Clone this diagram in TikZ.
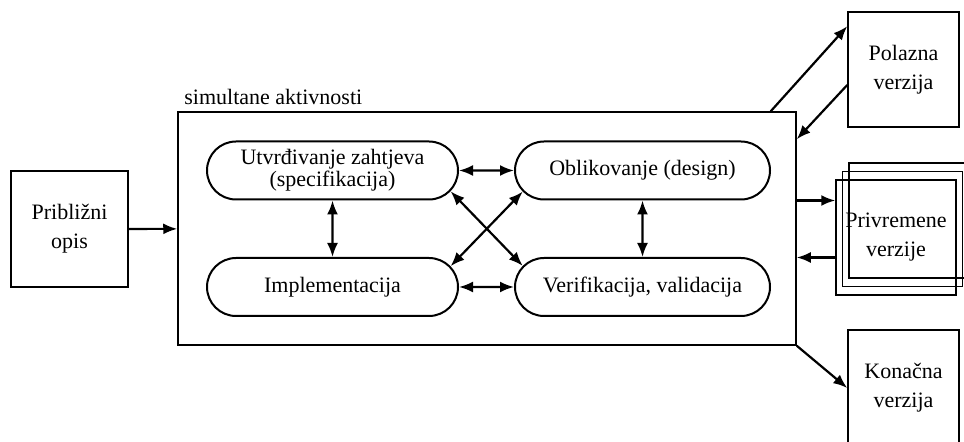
\documentclass[tikz,border=0pt]{standalone}
\usepackage{tikz}
\usepackage{fontspec}
\setmainfont{Liberation Serif}
\usetikzlibrary{arrows.meta,shapes.misc}
\tikzstyle{kutija}=[rectangle, draw, line width=0.75pt, align=center, inner sep=1pt, font=\fontsize{11}{14.5}\selectfont]
\tikzstyle{faza}=[rounded rectangle, draw, line width=1pt, align=center, inner sep=1pt, minimum height=29pt, font=\fontsize{11}{10.8}\selectfont]
\newcommand{\faza}{\node[faza]}
\newcommand{\kutija}{\node[kutija]}

\begin{document}
\begin{tikzpicture}[x=0.5pt, y=-0.5pt, >={Latex[length=7pt,width=5.5pt]}]
\useasboundingbox (0,0) rectangle (964,442);
% ulaz i okvir
\kutija[minimum width=58.5pt, minimum height=58pt] (opis) at (69.5,229) {Približni\\opis};
\kutija[minimum width=309pt, minimum height=116.5pt] (aktiv) at (487,228.5) {};
\node[anchor=west, inner sep=0pt, font=\fontsize{11}{13}\selectfont] (naslov) at (184,97) {simultane aktivnosti};
% faze
\faza[minimum width=127.5pt] (utv) at (332.5,170.5) {Utvrđivanje zahtjeva\\(specifikacija)};
\faza[minimum width=129.5pt] (obl) at (642.5,170.5) {Oblikovanje (design)};
\faza[minimum width=127.5pt] (impl) at (332.5,287) {Implementacija};
\faza[minimum width=129.5pt] (ver) at (642.5,287) {Verifikacija, validacija};
% verzije
\kutija[minimum width=55.5pt, minimum height=57.5pt] (polazna) at (903.5,69.5) {Polazna\\verzija};
\foreach \i/\x/\y in {3/909/220.5, 2/902.5/229}{
	\kutija[minimum width=60pt, minimum height=57.5pt] (prv\i) at (\x,\y) {};
	}
\kutija[minimum width=60pt, minimum height=57.5pt] (prv1) at (896,237.5) {Privremene\\verzije};
\kutija[minimum width=55.5pt, minimum height=58pt] (konacna) at (903.5,388) {Konačna\\verzija};

\draw[->, line width=1.1pt] (opis) -- (aktiv);
\draw[<->, line width=1.1pt] (utv) -- (obl);
\draw[<->, line width=1.1pt] (impl) -- (ver);
\draw[<->, line width=1.1pt] (utv) -- (impl);
\draw[<->, line width=1.1pt] (obl) -- (ver);
\draw[<->, line width=1.1pt] (utv.-10) -- (ver.170);
\draw[<->, line width=1.1pt] (obl.190) -- (impl.10);
\draw[->, line width=1.1pt] ([xshift=-13pt]aktiv.north east) -- ([yshift=-7.5pt]polazna.north west);
\draw[->, line width=1.1pt] ([yshift=-7.75pt]polazna.west) -- ([yshift=-14pt]aktiv.north east);
\draw[->, line width=1.1pt] ([yshift=14pt]aktiv.east) -- ([yshift=14pt]aktiv.east -| prv1.west);
\draw[->, line width=1.1pt] ([yshift=-10pt]prv1.west) -- ([yshift=-10pt]prv1.west -| aktiv.east);
\draw[->, line width=1.1pt] (aktiv.south east) -- (konacna.west);
\end{tikzpicture}
\end{document}
